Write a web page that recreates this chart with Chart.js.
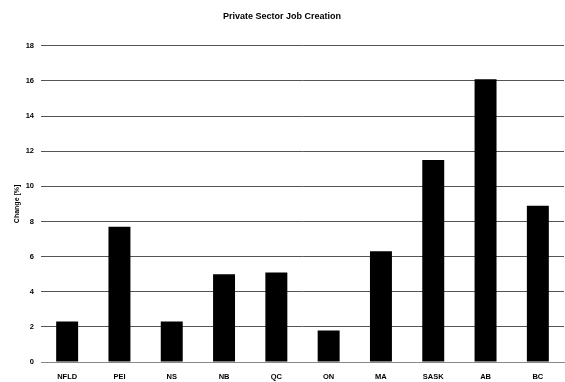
<!DOCTYPE html>
<html>
<head>
<meta charset="utf-8">
<script src="https://cdn.jsdelivr.net/npm/chart.js@4"></script>
<style>
  html, body { margin: 0; padding: 0; background: #fff; }
  #wrap { width: 565px; height: 382px; }
</style>
</head>
<body>
<div id="wrap"><canvas id="jobChart" width="565" height="382"></canvas></div>
<script>
// datos
const provinces = ['NFLD', 'PEI', 'NS', 'NB', 'QC', 'ON', 'MA', 'SASK', 'AB', 'BC'];
const changePct = [2.3, 7.7, 2.3, 5.0, 5.1, 1.8, 6.3, 11.5, 16.1, 8.9];
const yTicks = [0, 2, 4, 6, 8, 10, 12, 14, 16, 18];

const font = 'Liberation Sans, Arial, sans-serif';

new Chart(document.getElementById('jobChart').getContext('2d'), {
    type: 'bar',
    data: {
        labels: provinces,
        datasets: [{
            label: 'Change [%]',
            data: changePct,
            backgroundColor: '#000',
            borderWidth: 0,
            categoryPercentage: 1,
            barPercentage: 0.42
        }]
    },
    options: {
        responsive: false,
        animation: false,
        layout: { padding: { left: 0, right: 1, top: 0, bottom: 0 } },
        plugins: {
            legend: { display: false },
            tooltip: { enabled: false },
            title: {
                display: true,
                text: 'Private Sector Job Creation',
                color: '#000',
                font: { family: font, size: 9, weight: 'bold' },
                padding: { top: 11, bottom: 24 }
            }
        },
        scales: {
            x: {
                grid: { display: false, drawTicks: false },
                border: { display: true, color: '#888', width: 1 },
                ticks: {
                    color: '#000',
                    font: { family: font, size: 7.5, weight: 'bold' },
                    padding: 10,
                    maxRotation: 0
                },
                afterFit: (scale) => { scale.height = 20; }
            },
            y: {
                min: 0,
                max: 18,
                afterBuildTicks: (scale) => { scale.ticks = yTicks.map(v => ({ value: v })); },
                grid: { color: '#555', lineWidth: 1, drawTicks: false },
                border: { display: false },
                ticks: {
                    color: '#000',
                    font: { family: font, size: 7.5, weight: 'bold' },
                    padding: 7
                },
                title: {
                    display: true,
                    text: 'Change [%]',
                    color: '#000',
                    font: { family: font, size: 7, weight: 'bold' },
                    padding: { top: 13, bottom: 0 }
                },
                afterFit: (scale) => { scale.width = 41; }
            }
        }
    }
});
</script>
</body>
</html>
